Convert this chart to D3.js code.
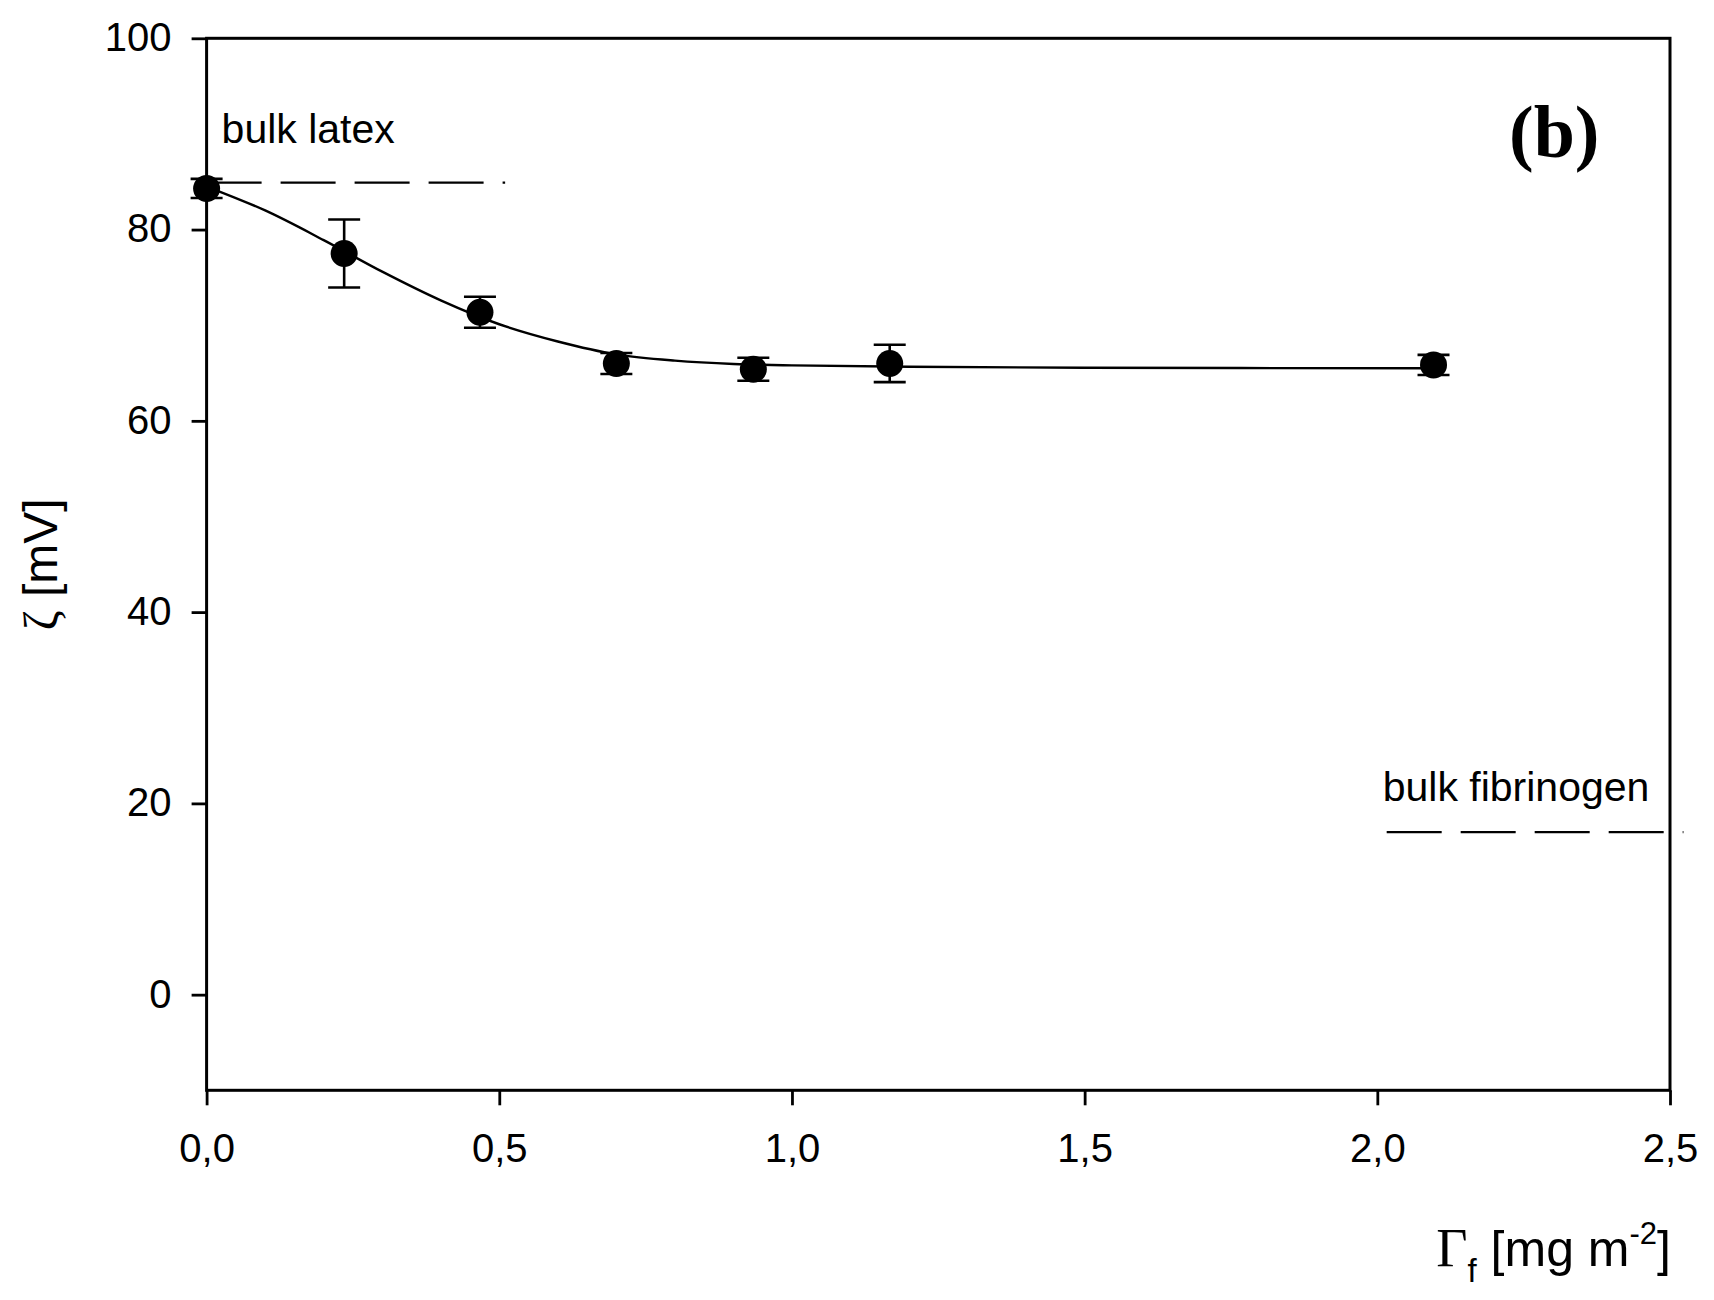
<!DOCTYPE html>
<html>
<head>
<meta charset="utf-8">
<script src="https://cdn.jsdelivr.net/npm/d3@7"></script>
<style>
  body { margin: 0; background: #fff; }
  svg { display: block; }
  text { font-family: "Liberation Sans", Arial, sans-serif; fill: #000; }
  .serif { font-family: "Liberation Serif", "Times New Roman", serif; }
</style>
</head>
<body>
<svg id="chart"></svg>
<script>
//
// Data
//

// adsorbed fibrinogen coverage [mg m-2]
var coverage = [0.0, 0.235, 0.467, 0.700, 0.934, 1.167, 2.096]
// zeta potential [mV]
var zeta = [84.3, 77.5, 71.35, 66.0, 65.4, 66.0, 65.85]
// half length of the error bars [mV]
var zetaErr = [1.0, 3.55, 1.62, 1.1, 1.2, 1.95, 1.05]

// fitted curve
var fitX = [0.0, 0.1, 0.2, 0.3, 0.4, 0.5, 0.6, 0.7, 0.8, 0.9, 1.0, 1.2, 1.5, 2.096]
var fitY = [84.5, 82.0, 78.9, 75.6, 72.6, 70.1, 68.3, 66.95, 66.3, 65.95, 65.8, 65.65, 65.55, 65.5]

// bulk reference levels [mV] and their x extent
var latexLevel = 84.9
var latexRange = [0, 0.51]
var fibrinogenLevel = 17.0
var fibrinogenRange = [2.016, 2.523]

var xTicks = [0, 0.5, 1.0, 1.5, 2.0, 2.5]
var yTicks = [0, 20, 40, 60, 80, 100]

//
// Layout
//

var width = 1714
var height = 1300
var margin = { top: 38.3, right: 44, bottom: 209.7, left: 206.6 }
var innerW = width - margin.left - margin.right
var innerH = height - margin.top - margin.bottom
var tickLen = 15
var dashes = '55,19'

var svg = d3.select('#chart').attr('width', width).attr('height', height)
var g = svg.append('g').attr('transform', 'translate(' + margin.left + ',' + margin.top + ')')

var x = d3.scaleLinear().domain([0, 2.5]).range([0, innerW])
var y = d3.scaleLinear().domain([-10, 100]).range([innerH, 0])

var comma = d3.formatLocale({ decimal: ',', thousands: '.', grouping: [3], currency: ['', ''] })

//
// Axes
//

var xAxis = g.append('g')
  .attr('transform', 'translate(0,' + innerH + ')')
  .call(d3.axisBottom(x).tickValues(xTicks).tickSize(tickLen).tickSizeOuter(0)
    .tickPadding(28).tickFormat(comma.format('.1f')))

var yAxis = g.append('g')
  .call(d3.axisLeft(y).tickValues(yTicks).tickSize(tickLen).tickSizeOuter(0)
    .tickPadding(20))

;[xAxis, yAxis].forEach(function(a) {
  a.attr('font-family', null).attr('font-size', null)
  a.select('.domain').remove()
  a.selectAll('.tick line').attr('stroke', '#000').attr('stroke-width', 2.8)
  a.selectAll('.tick text').attr('font-size', 40)
})
yAxis.selectAll('.tick text').attr('dy', '0.31em')

// frame
g.append('rect')
  .attr('x', 0).attr('y', 0)
  .attr('width', innerW).attr('height', innerH)
  .attr('fill', 'none')
  .attr('stroke', '#000')
  .attr('stroke-width', 3)

//
// Reference lines
//

function level(range, value) {
  g.append('line')
    .attr('x1', x(range[0])).attr('x2', x(range[1]))
    .attr('y1', y(value)).attr('y2', y(value))
    .attr('stroke', '#000')
    .attr('stroke-width', 2.2)
    .attr('stroke-dasharray', dashes)
}
level(latexRange, latexLevel)
level(fibrinogenRange, fibrinogenLevel)

g.append('text')
  .attr('x', x(latexRange[0]) + 15)
  .attr('y', y(latexLevel) - 40)
  .attr('font-size', 41)
  .text('bulk latex')

g.append('text')
  .attr('x', x(fibrinogenRange[0]) - 4)
  .attr('y', y(fibrinogenLevel) - 31)
  .attr('font-size', 41)
  .text('bulk fibrinogen')

//
// Fit curve
//

var fit = fitX.map(function(d, i) { return [d, fitY[i]] })
var line = d3.line()
  .x(function(d) { return x(d[0]) })
  .y(function(d) { return y(d[1]) })
  .curve(d3.curveCatmullRom.alpha(0.5))

g.append('path')
  .datum(fit)
  .attr('d', line)
  .attr('fill', 'none')
  .attr('stroke', '#000')
  .attr('stroke-width', 2.4)

//
// Points with error bars
//

var points = coverage.map(function(d, i) { return { x: d, y: zeta[i], e: zetaErr[i] } })
var capW = 16

var bars = g.append('g').selectAll('g')
  .data(points)
  .enter().append('g')
  .attr('stroke', '#000')
  .attr('stroke-width', 2.6)

bars.append('line')
  .attr('x1', function(d) { return x(d.x) })
  .attr('x2', function(d) { return x(d.x) })
  .attr('y1', function(d) { return y(d.y + d.e) })
  .attr('y2', function(d) { return y(d.y - d.e) })
bars.append('line')
  .attr('x1', function(d) { return x(d.x) - capW })
  .attr('x2', function(d) { return x(d.x) + capW })
  .attr('y1', function(d) { return y(d.y + d.e) })
  .attr('y2', function(d) { return y(d.y + d.e) })
bars.append('line')
  .attr('x1', function(d) { return x(d.x) - capW })
  .attr('x2', function(d) { return x(d.x) + capW })
  .attr('y1', function(d) { return y(d.y - d.e) })
  .attr('y2', function(d) { return y(d.y - d.e) })

g.append('g').selectAll('circle')
  .data(points)
  .enter().append('circle')
  .attr('cx', function(d) { return x(d.x) })
  .attr('cy', function(d) { return y(d.y) })
  .attr('r', 13.5)
  .attr('fill', '#000')

//
// Titles
//

svg.append('text')
  .attr('class', 'serif')
  .attr('x', 1509)
  .attr('y', 157)
  .attr('font-weight', 'bold')
  .attr('font-size', 74)
  .text('(b)')

var xt = svg.append('text')
  .attr('x', 1671)
  .attr('y', 1266)
  .attr('text-anchor', 'end')
  .attr('font-size', 50)
xt.append('tspan')
  .attr('class', 'serif')
  .attr('font-size', 54)
  .text('Γ')
xt.append('tspan').attr('font-size', 33).attr('dy', 16).text('f')
xt.append('tspan').attr('dy', -16).text(' [mg m')
xt.append('tspan').attr('font-size', 31).attr('dy', -22).text('-2')
xt.append('tspan').attr('dy', 22).text(']')

var yt = svg.append('text')
  .attr('transform', 'translate(57,' + (margin.top + innerH / 2) + ') rotate(-90)')
  .attr('text-anchor', 'middle')
  .attr('font-size', 48)
yt.append('tspan')
  .attr('class', 'serif')
  .text('ζ')
yt.append('tspan').text(' [mV]')
</script>
</body>
</html>
